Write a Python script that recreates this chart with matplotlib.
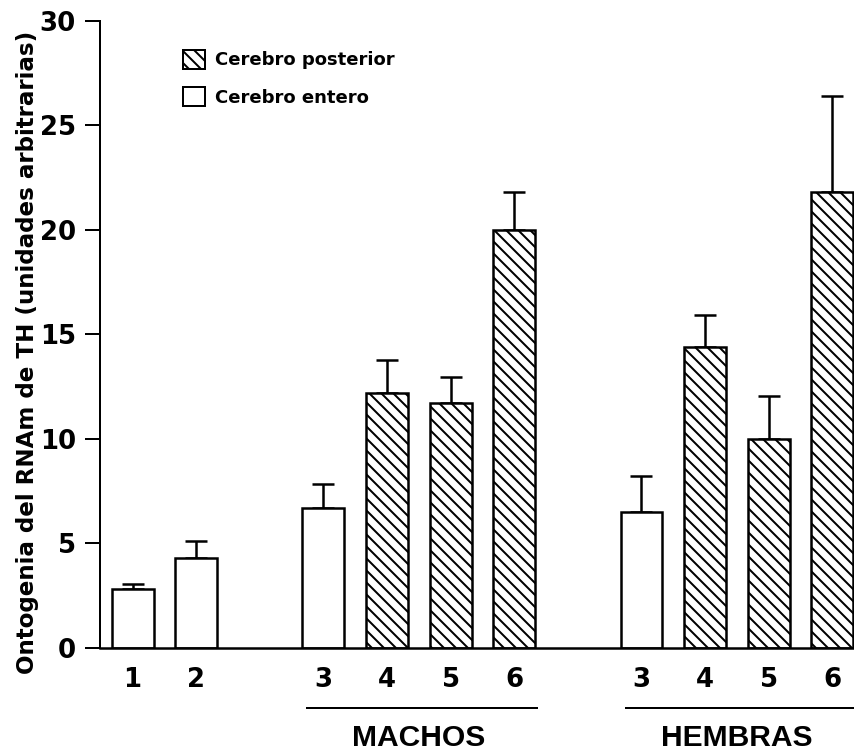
import matplotlib
matplotlib.use("Agg")
import matplotlib.pyplot as plt
from matplotlib.patches import Patch

# ---- data ----
bar_labels = ['1', '2', '3', '4', '5', '6', '3', '4', '5', '6']
group_of_bar = ['', '', 'MACHOS', 'MACHOS', 'MACHOS', 'MACHOS',
                'HEMBRAS', 'HEMBRAS', 'HEMBRAS', 'HEMBRAS']
tissue = ['entero', 'entero', 'entero', 'posterior', 'posterior', 'posterior',
          'entero', 'posterior', 'posterior', 'posterior']
means = [2.8, 4.3, 6.7, 12.2, 11.7, 20.0, 6.5, 14.4, 10.0, 21.8]
errors = [0.26, 0.82, 1.12, 1.56, 1.26, 1.8, 1.72, 1.54, 2.07, 4.6]
legend_labels = {'posterior': 'Cerebro posterior', 'entero': 'Cerebro entero'}
ylabel = 'Ontogenia del RNAm de TH (unidades arbitrarias)'
yticks = [0, 5, 10, 15, 20, 25, 30]

# ---- positions: a gap of one slot between groups ----
positions = []
p = 0
prev = None
for g in group_of_bar:
    if prev is not None and g != prev:
        p += 1
    positions.append(p)
    p += 1
    prev = g

DPI = 72
plt.rcParams['hatch.linewidth'] = 2.0
fig = plt.figure(figsize=(854 / DPI, 751 / DPI), dpi=DPI)
ax = fig.add_axes([100 / 854, 1 - 648 / 751, 1 - 100 / 854, (648 - 20.7) / 751])

HATCH = '\\\\'
width = 0.66
for x, m, e, t in zip(positions, means, errors, tissue):
    ax.bar(x, m, width=width, color='white', edgecolor='black', linewidth=2.5,
           hatch=HATCH if t == 'posterior' else None, zorder=2)
    ax.errorbar(x, m, yerr=[[0], [e]], fmt='none', ecolor='black',
                elinewidth=2.5, capsize=11, capthick=2.5, zorder=1)

ax.set_xlim(-0.511, 11.34)
ax.set_ylim(0, 30)
ax.set_yticks(yticks)
ax.set_yticklabels([str(v) for v in yticks], fontfamily='DejaVu Sans',
                   fontweight='bold', fontsize=26)
ax.set_xticks(positions)
ax.set_xticklabels(bar_labels, fontfamily='DejaVu Sans', fontweight='bold',
                   fontsize=26)
ax.tick_params(axis='x', length=0, pad=19)
ax.tick_params(axis='y', length=15, width=2, pad=9)
for s in ['top', 'right']:
    ax.spines[s].set_visible(False)
ax.spines['left'].set_linewidth(2)
ax.spines['bottom'].set_linewidth(2.5)

ax.set_ylabel(ylabel, fontfamily='DejaVu Sans', fontweight='bold',
              fontsize=23)
ax.yaxis.set_label_coords(-0.081, 0.472)

# group underlines and names
trans = ax.get_xaxis_transform()
for g in ['MACHOS', 'HEMBRAS']:
    xs = [x for x, gg in zip(positions, group_of_bar) if gg == g]
    ax.plot([min(xs) - 0.25, max(xs) + 0.36], [-0.0952, -0.0952],
            color='black', linewidth=2, transform=trans, clip_on=False)
    ax.text((min(xs) + max(xs)) / 2, -0.157, g, transform=trans,
            ha='center', va='baseline', fontfamily='Liberation Sans',
            fontweight='bold', fontsize=30)

handles = [Patch(facecolor='white', edgecolor='black', linewidth=2, hatch=HATCH),
           Patch(facecolor='white', edgecolor='black', linewidth=2)]
fs = 18
ax.legend(handles, [legend_labels['posterior'], legend_labels['entero']],
          loc='upper left', bbox_to_anchor=(183 / 854, 1 - 50 / 751),
          bbox_transform=fig.transFigure, frameon=False, borderpad=0,
          borderaxespad=0, handlelength=22 / fs, handleheight=22 / fs,
          handletextpad=10 / fs, labelspacing=18 / fs,
          prop={'family': 'DejaVu Sans', 'weight': 'bold', 'size': fs})

fig.savefig('out.png', dpi=DPI)
